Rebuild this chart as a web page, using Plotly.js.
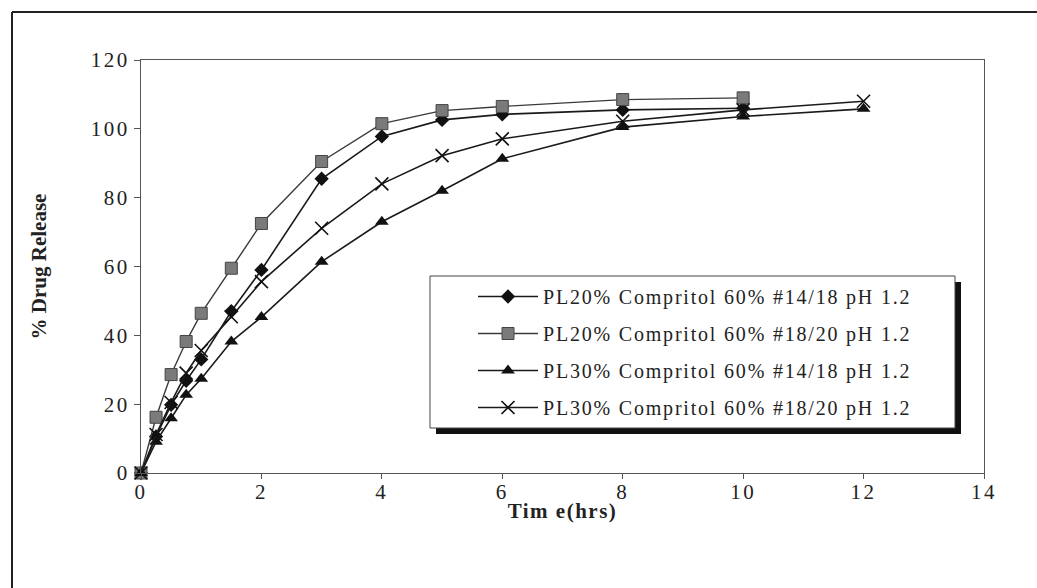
<!DOCTYPE html>
<html>
<head>
<meta charset="utf-8">
<script src="https://cdn.plot.ly/plotly-3.0.1.min.js"></script>
<style>
  html, body { margin: 0; padding: 0; background: #ffffff; }
  #chart { width: 1037px; height: 588px; }
  .legendtext { letter-spacing: 1.8px; }
  .xtick text, .ytick text { letter-spacing: 2.5px; }
  .g-xtitle text { letter-spacing: 1.5px; }
</style>
</head>
<body>
<div id="chart"></div>
<script>
// Time points (hrs)
const timeLong  = [0, 0.25, 0.5, 0.75, 1, 1.5, 2, 3, 4, 5, 6, 8, 10, 12];
const timeShort = [0, 0.25, 0.5, 0.75, 1, 1.5, 2, 3, 4, 5, 6, 8, 10];

// % Drug release for each formulation
const pl20_1418 = [0, 10.6, 19.8, 26.8, 33.0, 47.0, 59.0, 85.5, 97.8, 102.6, 104.2, 105.5, 106.0];
const pl20_1820 = [0, 16.2, 28.6, 38.2, 46.4, 59.5, 72.5, 90.5, 101.5, 105.3, 106.5, 108.5, 109.0];
const pl30_1418 = [0, 9.1, 15.9, 22.7, 27.4, 38.2, 45.3, 61.4, 73.0, 82.0, 91.3, 100.5, 103.6, 105.8];
const pl30_1820 = [0, 11.2, 20.5, 29.0, 35.6, 45.4, 55.6, 71.1, 84.0, 92.2, 97.1, 102.2, 105.5, 108.0];

const seriesNames = [
  "PL20% Compritol 60% #14/18 pH 1.2",
  "PL20% Compritol 60% #18/20 pH 1.2",
  "PL30% Compritol 60% #14/18 pH 1.2",
  "PL30% Compritol 60% #18/20 pH 1.2"
];

const xTickVals = [0, 2, 4, 6, 8, 10, 12, 14];
const yTickVals = [0, 20, 40, 60, 80, 100, 120];

const serif = "Liberation Serif, Times New Roman, serif";

const traces = [
  {
    x: timeShort, y: pl20_1418, name: seriesNames[0], legendgroup: "a",
    mode: "lines+markers", cliponaxis: false,
    line: { color: "#1a1a1a", width: 1.6 },
    marker: { symbol: "diamond", size: 11, color: "#111111" }
  },
  {
    x: timeShort, y: pl20_1820, name: seriesNames[1], legendgroup: "b",
    mode: "lines+markers", cliponaxis: false,
    line: { color: "#3a3a3a", width: 1.4 },
    marker: { symbol: "square", size: 12, color: "#7a7a7a", line: { color: "#444444", width: 1 } }
  },
  {
    x: timeLong, y: pl30_1418, name: seriesNames[2], legendgroup: "c",
    mode: "lines+markers", cliponaxis: false,
    line: { color: "#1a1a1a", width: 1.6 },
    marker: { symbol: "triangle-up", size: 12, color: "#111111" }
  },
  {
    x: timeLong, y: pl30_1820, name: seriesNames[3], legendgroup: "d",
    mode: "lines+markers", cliponaxis: false,
    line: { color: "#1a1a1a", width: 1.6 },
    marker: { symbol: "x-thin-open", size: 13, color: "#111111", line: { color: "#111111", width: 1.6 } }
  }
];

// plot area: x 141..984, y 60..473
const px = v => (v - 141) / 843;
const py = v => (473 - v) / 413;

const layout = {
  width: 1037, height: 588,
  margin: { l: 141, r: 53, t: 60, b: 115 },
  paper_bgcolor: "#ffffff", plot_bgcolor: "#ffffff",
  font: { family: serif, color: "#222222", size: 20 },
  showlegend: true,
  legend: {
    x: px(473), y: py(277), xanchor: "left", yanchor: "top",
    bgcolor: "rgba(0,0,0,0)", borderwidth: 0,
    font: { family: serif, size: 20, color: "#222222" },
    itemwidth: 60, tracegroupgap: 8, traceorder: "grouped"
  },
  xaxis: {
    range: [0, 14], tickvals: xTickVals, ticktext: xTickVals.map(String),
    ticks: "outside", ticklen: 5, tickcolor: "#555555", ticklabelstandoff: -5,
    showline: true, linecolor: "#555555", linewidth: 1, mirror: true,
    showgrid: false, zeroline: false,
    tickfont: { family: serif, size: 21, color: "#222222" },
    title: { text: "<b>Tim e(hrs)</b>", font: { family: serif, size: 21, color: "#222222" }, standoff: 0 }
  },
  yaxis: {
    range: [0, 120], tickvals: yTickVals, ticktext: yTickVals.map(String),
    ticks: "outside", ticklen: 6, tickcolor: "#555555",
    showline: true, linecolor: "#555555", linewidth: 1, mirror: true,
    showgrid: false, zeroline: false,
    tickfont: { family: serif, size: 21, color: "#222222" },
    title: { text: "<b>% Drug Release</b>", font: { family: serif, size: 21, color: "#222222" }, standoff: 38 }
  },
  shapes: [
    // outer frame (top and left)
    { type: "line", xref: "paper", yref: "paper", x0: px(12), x1: px(1037), y0: py(12), y1: py(12), line: { color: "#222222", width: 2 } },
    { type: "line", xref: "paper", yref: "paper", x0: px(12), x1: px(12), y0: py(12), y1: py(588), line: { color: "#222222", width: 2 } },
    // legend shadow
    { type: "rect", xref: "paper", yref: "paper", x0: px(436), x1: px(961), y0: py(282), y1: py(434), fillcolor: "#111111", line: { width: 0 } },
    // legend box
    { type: "rect", xref: "paper", yref: "paper", x0: px(430), x1: px(955), y0: py(276), y1: py(428), fillcolor: "#ffffff", line: { color: "#444444", width: 1 } }
  ]
};

Plotly.newPlot("chart", traces, layout, { displayModeBar: false, staticPlot: true });
</script>
</body>
</html>
